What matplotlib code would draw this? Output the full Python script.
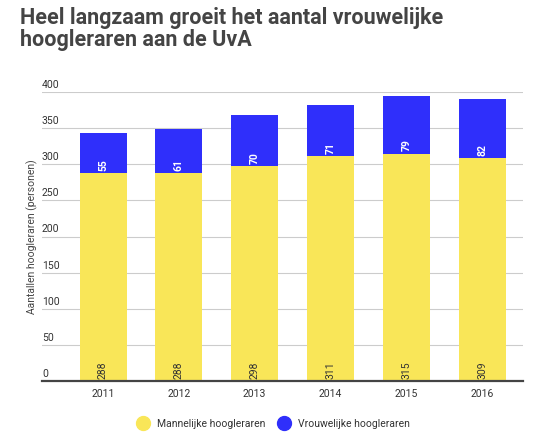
import matplotlib.pyplot as plt
from matplotlib.lines import Line2D
from matplotlib.transforms import blended_transform_factory

years = ["2011", "2012", "2013", "2014", "2015", "2016"]
mannen = [288, 288, 298, 311, 315, 309]
vrouwen = [55, 61, 70, 71, 79, 82]
yticks = [0, 50, 100, 150, 200, 250, 300, 350, 400]

geel = "#F9E658"
blauw = "#2F2FFB"

plt.rcParams["font.family"] = ["Roboto", "DejaVu Sans"]

fig = plt.figure(figsize=(5.48, 4.43), dpi=100)
ax = fig.add_axes([0.0766, 0.140, 0.8778, 0.652])

x = list(range(len(years)))
ax.bar(x, mannen, width=0.62, color=geel, zorder=2)
ax.bar(x, vrouwen, width=0.62, bottom=mannen, color=blauw, zorder=2)

for i in x:
    ax.text(i, 3, str(mannen[i]), rotation=90, ha="center", va="bottom",
            fontsize=7.5, color="#333333", zorder=3)
    ax.text(i, mannen[i] + 3, str(vrouwen[i]), rotation=90, ha="center",
            va="bottom", fontsize=7.5, color="white", fontweight="bold", zorder=3)

ax.set_xlim(-0.805, 5.54)
ax.set_ylim(0, 400)
ax.set_xticks(x)
ax.set_xticklabels(years, fontsize=7.5, color="#333333")
ax.tick_params(axis="x", length=0, pad=6)
ax.set_yticks(yticks)
ax.set_yticklabels([])
ax.tick_params(axis="y", length=0)
ax.grid(axis="y", color="#cccccc", linewidth=0.8, zorder=0)
for s in ["top", "right", "left"]:
    ax.spines[s].set_visible(False)
ax.spines["bottom"].set_color("#444444")
ax.spines["bottom"].set_linewidth(1.6)
ax.spines["bottom"].set_zorder(4)

trans = blended_transform_factory(ax.transAxes, ax.transData)
for v in yticks:
    ax.text(0.0, v + 3, str(v), transform=trans, ha="left", va="bottom",
            fontsize=7.5, color="#333333")

ax.set_ylabel("Aantallen hoogleraren (personen)", fontsize=7.5, color="#444444")
ax.yaxis.set_label_coords(-0.008, 0.5)

fig.text(0.036, 0.985, "Heel langzaam groeit het aantal vrouwelijke\nhoogleraren aan de UvA",
         ha="left", va="top", fontsize=15.5, fontweight="bold", color="#444444",
         linespacing=1.0)

handles = [
    Line2D([], [], marker="o", linestyle="", markersize=10, color=geel),
    Line2D([], [], marker="o", linestyle="", markersize=10, color=blauw),
]
fig.legend(handles, ["Mannelijke hoogleraren", "Vrouwelijke hoogleraren"],
           loc="center", bbox_to_anchor=(0.495, 0.043), ncol=2, frameon=False,
           fontsize=7.5, handletextpad=0.3, columnspacing=0.8, labelcolor="#333333")

fig.savefig("out.png", dpi=100)
